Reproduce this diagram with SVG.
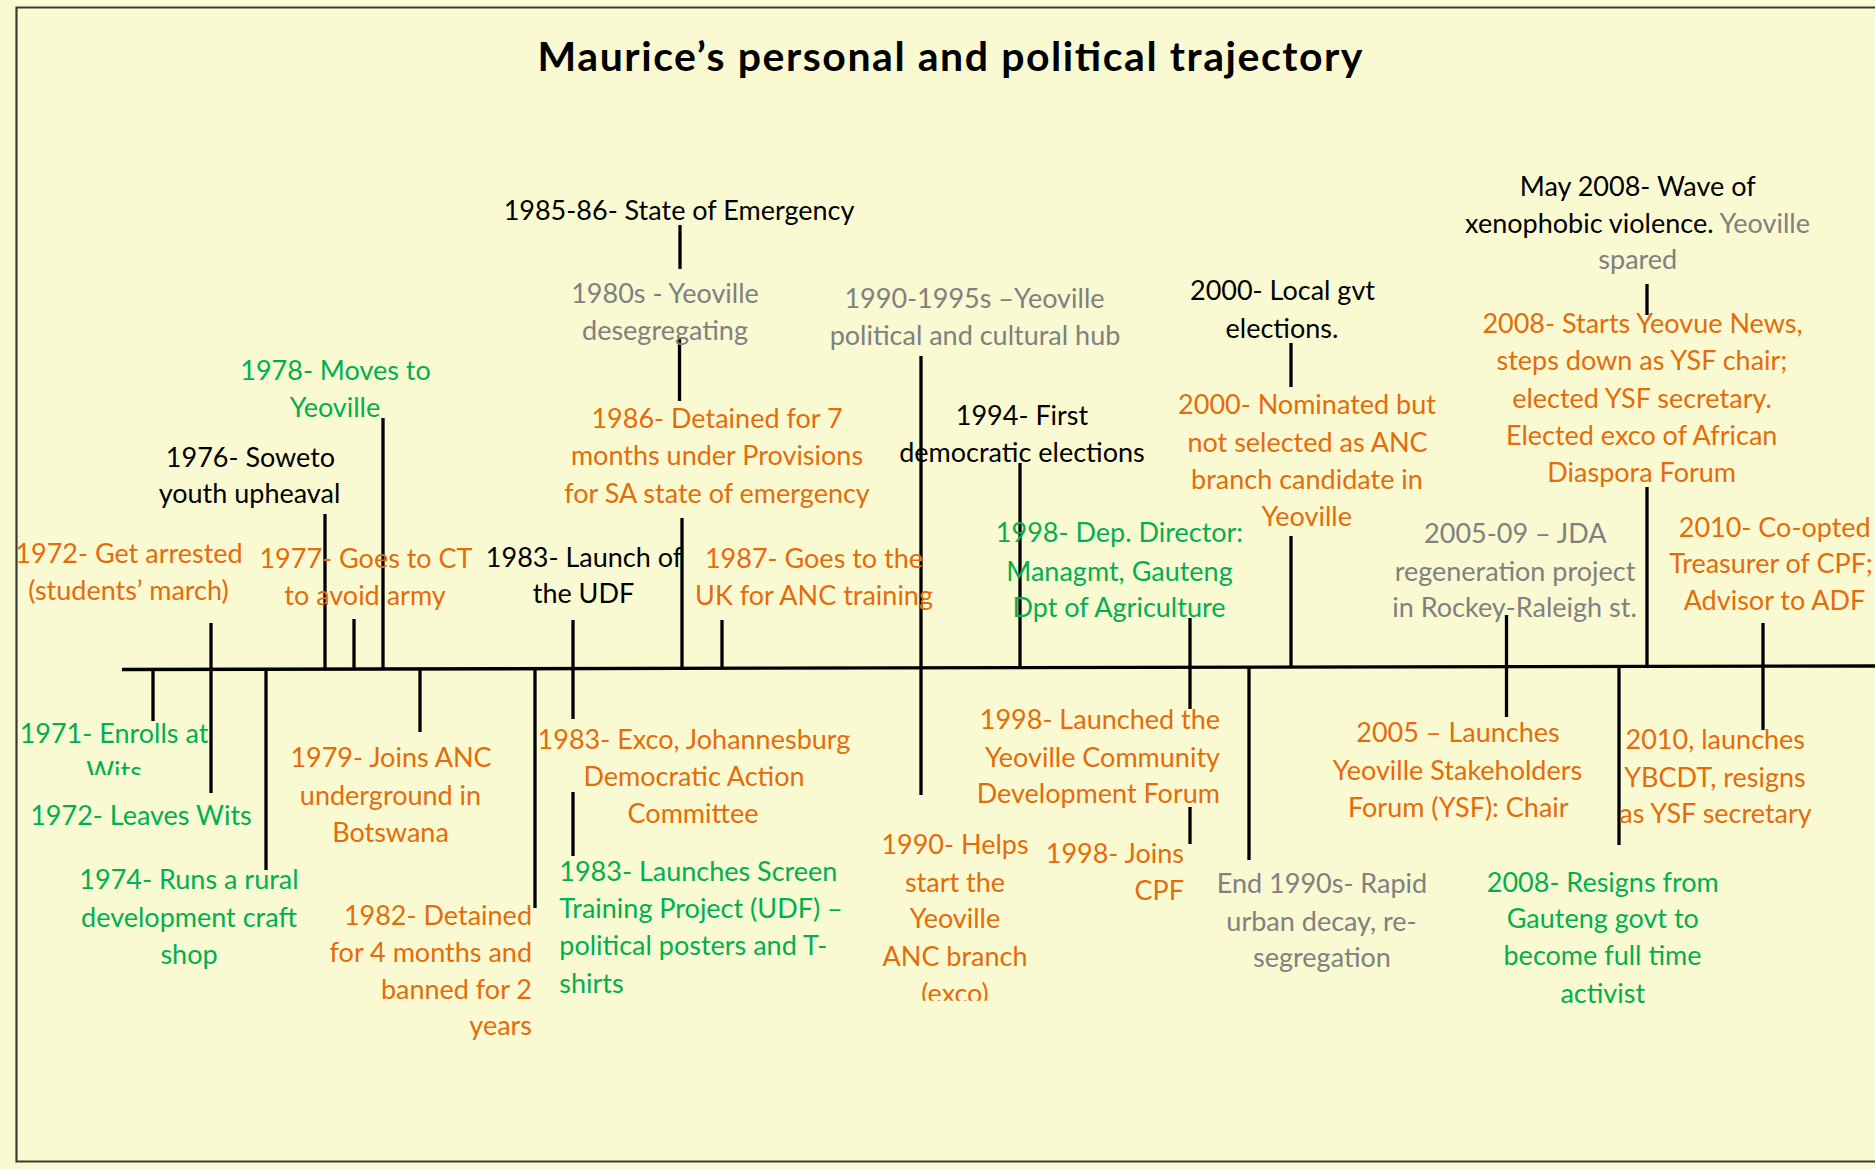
<svg xmlns="http://www.w3.org/2000/svg" width="1875" height="1169" viewBox="0 0 1875 1169">
<style>
.t{font-family:Lato,"Liberation Sans",sans-serif;font-size:27px}
.c{text-anchor:middle}
.e{text-anchor:end}
.o{fill:#E46C0A}
.g{fill:#00B050}
.k{fill:#000000}
.gr{fill:#808080}
.title{font-family:Lato,"Liberation Sans",sans-serif;font-size:41px;font-weight:bold;fill:#000;text-anchor:middle}
.tick{stroke:#000;stroke-width:3.3;fill:none}
</style>
<defs>
<clipPath id="clipWits"><rect x="0" y="0" width="300" height="775"/></clipPath>
<clipPath id="clipExco"><rect x="850" y="0" width="220" height="1000.7"/></clipPath>
</defs>
<rect x="0" y="0" width="1875" height="1169" fill="#FAFAD2"/>
<path d="M1875 7.5 H16.5 V1161.5 H1875" fill="none" stroke="#3a3a32" stroke-width="2.2"/>
<text class="title" x="950" y="71" textLength="825" lengthAdjust="spacing">Maurice’s personal and political trajectory</text>

<g id="connectors">
<line class="tick" x1="122" y1="669.5" x2="1875" y2="666"/>
<line class="tick" x1="153" y1="669" x2="153" y2="721"/>
<line class="tick" x1="211" y1="623" x2="211" y2="793"/>
<line class="tick" x1="266" y1="669" x2="266" y2="870"/>
<line class="tick" x1="325" y1="514" x2="325" y2="669"/>
<line class="tick" x1="354" y1="619" x2="354" y2="669"/>
<line class="tick" x1="383" y1="418" x2="383" y2="669"/>
<line class="tick" x1="420" y1="669" x2="420" y2="732"/>
<line class="tick" x1="535" y1="667" x2="535" y2="908"/>
<line class="tick" x1="573" y1="620" x2="573" y2="719"/>
<line class="tick" x1="573" y1="792" x2="573" y2="856"/>
<line class="tick" x1="680" y1="225" x2="680" y2="269"/>
<line class="tick" x1="679.5" y1="339" x2="679.5" y2="401"/>
<line class="tick" x1="682" y1="518" x2="682" y2="668"/>
<line class="tick" x1="722" y1="620" x2="722" y2="668"/>
<line class="tick" x1="921" y1="356" x2="921" y2="795"/>
<line class="tick" x1="1020" y1="463" x2="1020" y2="667"/>
<line class="tick" x1="1190" y1="618" x2="1190" y2="709"/>
<line class="tick" x1="1190" y1="807" x2="1190" y2="844"/>
<line class="tick" x1="1249" y1="667" x2="1249" y2="860"/>
<line class="tick" x1="1291" y1="343" x2="1291" y2="387"/>
<line class="tick" x1="1291" y1="536" x2="1291" y2="667"/>
<line class="tick" x1="1506.5" y1="615" x2="1506.5" y2="717"/>
<line class="tick" x1="1619" y1="667" x2="1619" y2="845"/>
<line class="tick" x1="1647" y1="284" x2="1647" y2="315"/>
<line class="tick" x1="1647" y1="487" x2="1647" y2="667"/>
<line class="tick" x1="1763" y1="623" x2="1763" y2="730"/>
</g>

<g id="n1971"><text class="t c g" x="114" y="743.3">1971- Enrolls at</text><text class="t c g" x="114" y="780.5" clip-path="url(#clipWits)">Wits</text></g>
<g id="n1972a"><text class="t c o"><tspan x="129" y="562.7">1972- Get arrested</tspan><tspan x="128.5" y="600">(students’ march)</tspan></text></g>
<g id="n1972b"><text class="t c g" x="141" y="825">1972- Leaves Wits</text></g>
<g id="n1974"><text class="t c g"><tspan x="189" y="889.3">1974- Runs a rural</tspan><tspan x="189" y="926.7">development craft</tspan><tspan x="189" y="964">shop</tspan></text></g>
<g id="n1976"><text class="t c k"><tspan x="250.5" y="466.7">1976- Soweto</tspan><tspan x="249.5" y="503.3">youth upheaval</tspan></text></g>
<g id="n1977"><text class="t c o"><tspan x="366" y="567.7">1977- Goes to CT</tspan><tspan x="365" y="605">to avoid army</tspan></text></g>
<g id="n1978"><text class="t c g"><tspan x="335.5" y="380">1978- Moves to</tspan><tspan x="335" y="417.3">Yeoville</tspan></text></g>
<g id="n1979"><text class="t c o"><tspan x="391" y="767.3">1979- Joins ANC</tspan><tspan x="390.5" y="805">underground in</tspan><tspan x="390.5" y="841.7">Botswana</tspan></text></g>
<g id="n1982"><text class="t e o"><tspan x="532" y="925">1982- Detained</tspan><tspan x="532" y="961.7">for 4 months and</tspan><tspan x="532" y="999.3">banned for 2</tspan><tspan x="532" y="1035">years</tspan></text></g>
<g id="n1983udf"><text class="t c k"><tspan x="584" y="566.7">1983- Launch of</tspan><tspan x="583.5" y="603.3">the UDF</tspan></text></g>
<g id="n1983exco"><text class="t c o"><tspan x="694" y="749.3">1983- Exco, Johannesburg</tspan><tspan x="694" y="786">Democratic Action</tspan><tspan x="693" y="822.7">Committee</tspan></text></g>
<g id="n1983screen"><text class="t g"><tspan x="559.3" y="880.7">1983- Launches Screen</tspan><tspan x="559.3" y="918.3">Training Project (UDF) –</tspan><tspan x="559.3" y="955">political posters and T-</tspan><tspan x="559.3" y="992.7">shirts</tspan></text></g>
<g id="n1985"><text class="t c k" x="679" y="220">1985-86- State of Emergency</text></g>
<g id="n1980s"><text class="t c gr"><tspan x="665" y="302.7">1980s - Yeoville</tspan><tspan x="665" y="340">desegregating</tspan></text></g>
<g id="n1986"><text class="t c o"><tspan x="717" y="428.3">1986- Detained for 7</tspan><tspan x="717" y="465">months under Provisions</tspan><tspan x="717" y="502.7">for SA state of emergency</tspan></text></g>
<g id="n1987"><text class="t c o"><tspan x="814" y="568.3">1987- Goes to the</tspan><tspan x="814" y="605">UK for ANC training</tspan></text></g>
<g id="n1990s"><text class="t c gr"><tspan x="974.5" y="308.3">1990-1995s –Yeoville</tspan><tspan x="975" y="345">political and cultural hub</tspan></text></g>
<g id="n1990"><text class="t c o"><tspan x="955" y="854">1990- Helps</tspan><tspan x="955" y="891.7">start the</tspan><tspan x="955" y="928.3">Yeoville</tspan><tspan x="955" y="966">ANC branch</tspan></text><text class="t c o" x="955" y="1003.3" clip-path="url(#clipExco)">(exco)</text></g>
<g id="n1994"><text class="t c k"><tspan x="1022" y="425">1994- First</tspan><tspan x="1022" y="461.7">democratic elections</tspan></text></g>
<g id="n1998dep"><text class="t c g"><tspan x="1119.5" y="541.7">1998- Dep. Director:</tspan><tspan x="1119.5" y="580.7">Managmt, Gauteng</tspan><tspan x="1119" y="616.7">Dpt of Agriculture</tspan></text></g>
<g id="n1998forum"><text class="t e o"><tspan x="1220" y="729.3">1998- Launched the</tspan><tspan x="1220" y="766.7">Yeoville Community</tspan><tspan x="1220" y="803.3">Development Forum</tspan></text></g>
<g id="n1998cpf"><text class="t e o"><tspan x="1184" y="863.3">1998- Joins</tspan><tspan x="1184" y="900">CPF</tspan></text></g>
<g id="nEnd1990s"><text class="t c gr"><tspan x="1322" y="893.3">End 1990s- Rapid</tspan><tspan x="1321.5" y="930.7">urban decay, re-</tspan><tspan x="1322" y="966.7">segregation</tspan></text></g>
<g id="n2000local"><text class="t c k"><tspan x="1282.5" y="300">2000- Local gvt</tspan><tspan x="1282" y="338.3">elections.</tspan></text></g>
<g id="n2000nom"><text class="t c o"><tspan x="1307" y="414">2000- Nominated but</tspan><tspan x="1307.5" y="451.7">not selected as ANC</tspan><tspan x="1307" y="489.3">branch candidate in</tspan><tspan x="1306.7" y="526">Yeoville</tspan></text></g>
<g id="n2005jda"><text class="t c gr"><tspan x="1515.3" y="543.3">2005-09 – JDA</tspan><tspan x="1515" y="581">regeneration project</tspan><tspan x="1514.5" y="617.3">in Rockey-Raleigh st.</tspan></text></g>
<g id="n2005ysf"><text class="t c o"><tspan x="1458" y="741.7">2005 – Launches</tspan><tspan x="1457.5" y="780">Yeoville Stakeholders</tspan><tspan x="1458.3" y="816.7">Forum (YSF): Chair</tspan></text></g>
<g id="nMay2008"><text class="t c k"><tspan x="1637.7" y="195.7">May 2008- Wave of</tspan><tspan x="1637.5" y="233.3">xenophobic violence. <tspan class="gr">Yeoville</tspan></tspan><tspan class="gr" x="1637.8" y="269.3">spared</tspan></text></g>
<g id="n2008news"><text class="t c o"><tspan x="1642.5" y="332.7">2008- Starts Yeovue News,</tspan><tspan x="1642" y="370">steps down as YSF chair;</tspan><tspan x="1642" y="407.7">elected YSF secretary.</tspan><tspan x="1641.7" y="445">Elected exco of African</tspan><tspan x="1641.7" y="481.7">Diaspora Forum</tspan></text></g>
<g id="n2008resign"><text class="t c g"><tspan x="1602.8" y="891.7">2008- Resigns from</tspan><tspan x="1602.8" y="928.3">Gauteng govt to</tspan><tspan x="1602.5" y="965">become full time</tspan><tspan x="1602.8" y="1003.3">activist</tspan></text></g>
<g id="n2010cpf"><text class="t c o"><tspan x="1774.7" y="536.7">2010- Co-opted</tspan><tspan x="1771" y="573.3">Treasurer of CPF;</tspan><tspan x="1774.5" y="610">Advisor to ADF</tspan></text></g>
<g id="n2010ybcdt"><text class="t c o"><tspan x="1715.3" y="749.3">2010, launches</tspan><tspan x="1715" y="786.7">YBCDT, resigns</tspan><tspan x="1715.5" y="823.3">as YSF secretary</tspan></text></g>
</svg>
